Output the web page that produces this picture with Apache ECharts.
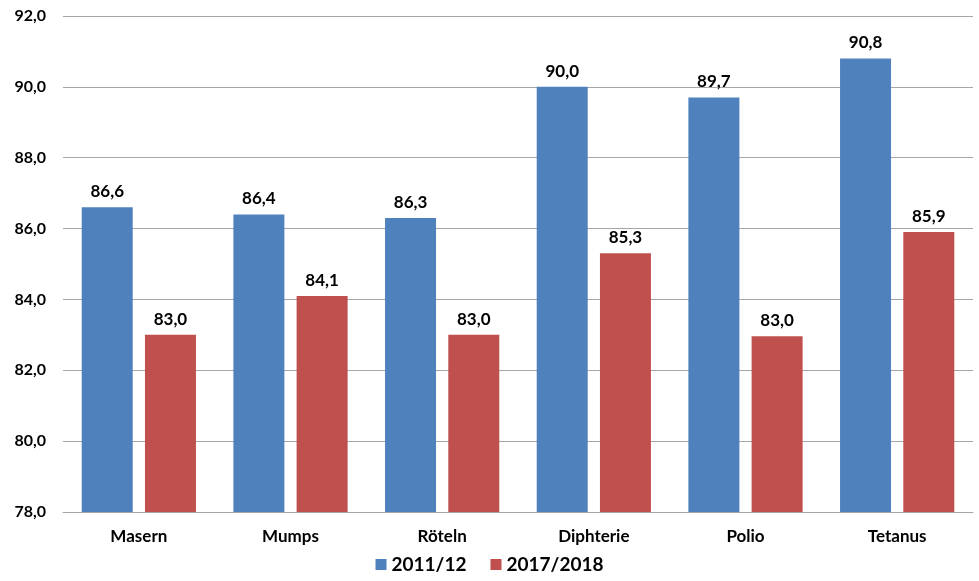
<!DOCTYPE html>
<html>
<head>
<meta charset="utf-8">
<script src="https://cdn.jsdelivr.net/npm/echarts@6/dist/echarts.min.js"></script>
<style>html,body{margin:0;padding:0;background:#fff}#c{width:979px;height:581px}</style>
</head>
<body>
<div id="c"></div>
<script>
var categories = ['Masern', 'Mumps', 'Röteln', 'Diphterie', 'Polio', 'Tetanus'];
var series2011 = [86.6, 86.4, 86.3, 90.0, 89.7, 90.8];
var series2017 = [83.0, 84.1, 83.0, 85.3, 82.96, 85.9];
var seriesNames = ['2011/12', '2017/2018'];

var FONT = 'Lato, "Open Sans", "Liberation Sans", sans-serif';
function fmt(v) { return Number(v).toFixed(1).replace('.', ','); }

var chart = echarts.init(document.getElementById('c'), null, {renderer: 'canvas'});
chart.setOption({
  animation: false,
  color: ['#4F81BD', '#C0504D'],
  grid: {left: 63, right: 6, top: 16, bottom: 69, containLabel: false},
  legend: {
    bottom: 2,
    left: 'center',
    itemWidth: 11,
    itemHeight: 11,
    itemGap: 24,
    icon: 'rect',
    textStyle: {fontFamily: FONT, fontWeight: 'bold', fontSize: 19, color: '#000'},
    data: seriesNames
  },
  xAxis: {
    type: 'category',
    data: categories,
    axisLine: {lineStyle: {color: '#A6A6A6', width: 1}},
    axisTick: {show: false},
    axisLabel: {fontFamily: FONT, fontWeight: 'bold', fontSize: 17, color: '#000', margin: 16}
  },
  yAxis: {
    type: 'value',
    min: 78, max: 92, interval: 2,
    axisLine: {show: false},
    axisTick: {show: false},
    splitLine: {lineStyle: {color: '#A6A6A6', width: 1}},
    axisLabel: {fontFamily: FONT, fontWeight: 'bold', fontSize: 16, color: '#000', margin: 17,
      formatter: function (v) { return fmt(v); }}
  },
  series: [
    {name: seriesNames[0], type: 'bar', data: series2011, barWidth: 51, barGap: '24%',
      label: {show: true, position: 'top', distance: 7, fontFamily: FONT, fontWeight: 'bold', fontSize: 17, color: '#000',
        formatter: function (p) { return fmt(p.value); }}},
    {name: seriesNames[1], type: 'bar', data: series2017, barWidth: 51, barGap: '24%',
      label: {show: true, position: 'top', distance: 7, fontFamily: FONT, fontWeight: 'bold', fontSize: 17, color: '#000',
        formatter: function (p) { return fmt(p.value); }}}
  ]
});
</script>
</body>
</html>
